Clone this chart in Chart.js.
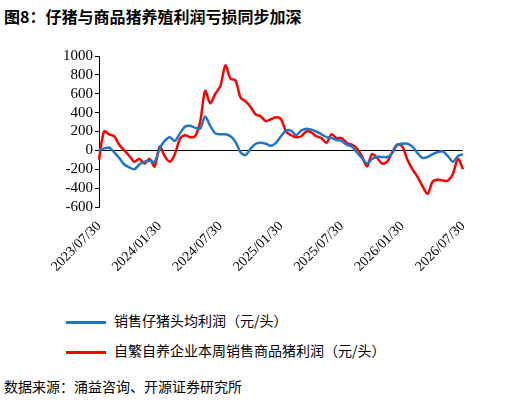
<!DOCTYPE html><html><head><meta charset="utf-8">
<script src="https://cdn.jsdelivr.net/npm/chart.js@4/dist/chart.umd.min.js"></script>
<style>body{margin:0;width:520px;height:402px;background:#fff;font-family:"Noto Sans CJK SC";position:relative;overflow:hidden}
#t{position:absolute;left:4px;top:4px;font-size:16px;font-weight:bold;color:#000}
#wrap{position:absolute;left:0;top:45px;width:480px;height:250px}
.lg{position:absolute;font-size:14px;color:#000}
.lg span{display:inline-block;width:40px;height:3px;vertical-align:middle;margin-right:8px}
#s{position:absolute;left:4px;top:376px;font-size:14px}
</style></head><body>
<div id="t">图8：仔猪与商品猪养殖利润亏损同步加深</div>
<div id="wrap"><canvas id="c"></canvas></div>
<div class="lg" style="left:66px;top:310px"><span style="background:#1f77c4"></span>销售仔猪头均利润（元/头）</div>
<div class="lg" style="left:66px;top:340px"><span style="background:#ff0000"></span>自繁自养企业本周销售商品猪利润（元/头）</div>
<div id="s">数据来源：涌益咨询、开源证券研究所</div>
<script>
const tickLabels=["2023/07/30","2024/01/30","2024/07/30","2025/01/30","2025/07/30","2026/01/30","2026/07/30"];
const piglet=[0,20,30,-20,-80,-150,-180,-200,-150,-120,-110,-120,20,100,140,100,180,250,260,240,230,360,260,180,170,170,150,90,-20,-50,20,70,80,70,50,80,150,210,210,160,210,230,220,200,170,140,130,110,100,60,40,-20,-80,-140,-90,-70,-70,-70,-30,60,70,70,40,-30,-80,-70,-40,-20,-10,-60,-120,-60,-40];
const hog=[-100,200,170,150,60,0,-60,-120,-90,-140,-90,-170,40,-60,-120,-40,120,160,140,150,300,630,500,600,680,900,760,740,560,520,460,380,360,310,330,350,330,200,160,140,150,200,190,150,130,80,170,130,130,80,60,20,-60,-170,-40,-80,-140,-120,-20,60,40,-100,-200,-280,-380,-460,-330,-310,-320,-320,-250,-90,-200];
const labels=piglet.map((_,i)=>i%12===0?tickLabels[i/12]:"");
new Chart(document.getElementById('c'),{type:'line',
data:{labels,datasets:[
{data:piglet,borderColor:'#1f77c4',borderWidth:2.5,pointRadius:0,tension:0.3},
{data:hog,borderColor:'#ff0000',borderWidth:2.5,pointRadius:0,tension:0.3}]},
options:{animation:false,responsive:true,maintainAspectRatio:false,
layout:{padding:{top:8,right:17,left:0,bottom:0}},
plugins:{legend:{display:false},tooltip:{enabled:false}},
scales:{
x:{grid:{display:false},border:{display:false},ticks:{autoSkip:false,maxRotation:45,minRotation:45,color:'#000',font:{family:'Liberation Serif',size:14},callback:(v,i)=>labels[i]},afterFit:a=>{a.height=88}},
y:{min:-600,max:1000,grid:{drawOnChartArea:true,color:c=>c.tick&&c.tick.value===0?'#000':'rgba(0,0,0,0)',drawTicks:true,tickColor:'#000',tickLength:4},border:{color:'#000'},
ticks:{stepSize:200,autoSkip:false,callback:v=>String(v),color:'#000',font:{family:'Liberation Serif',size:15},padding:2},afterFit:a=>{a.width=99}}}}});
</script></body></html>
